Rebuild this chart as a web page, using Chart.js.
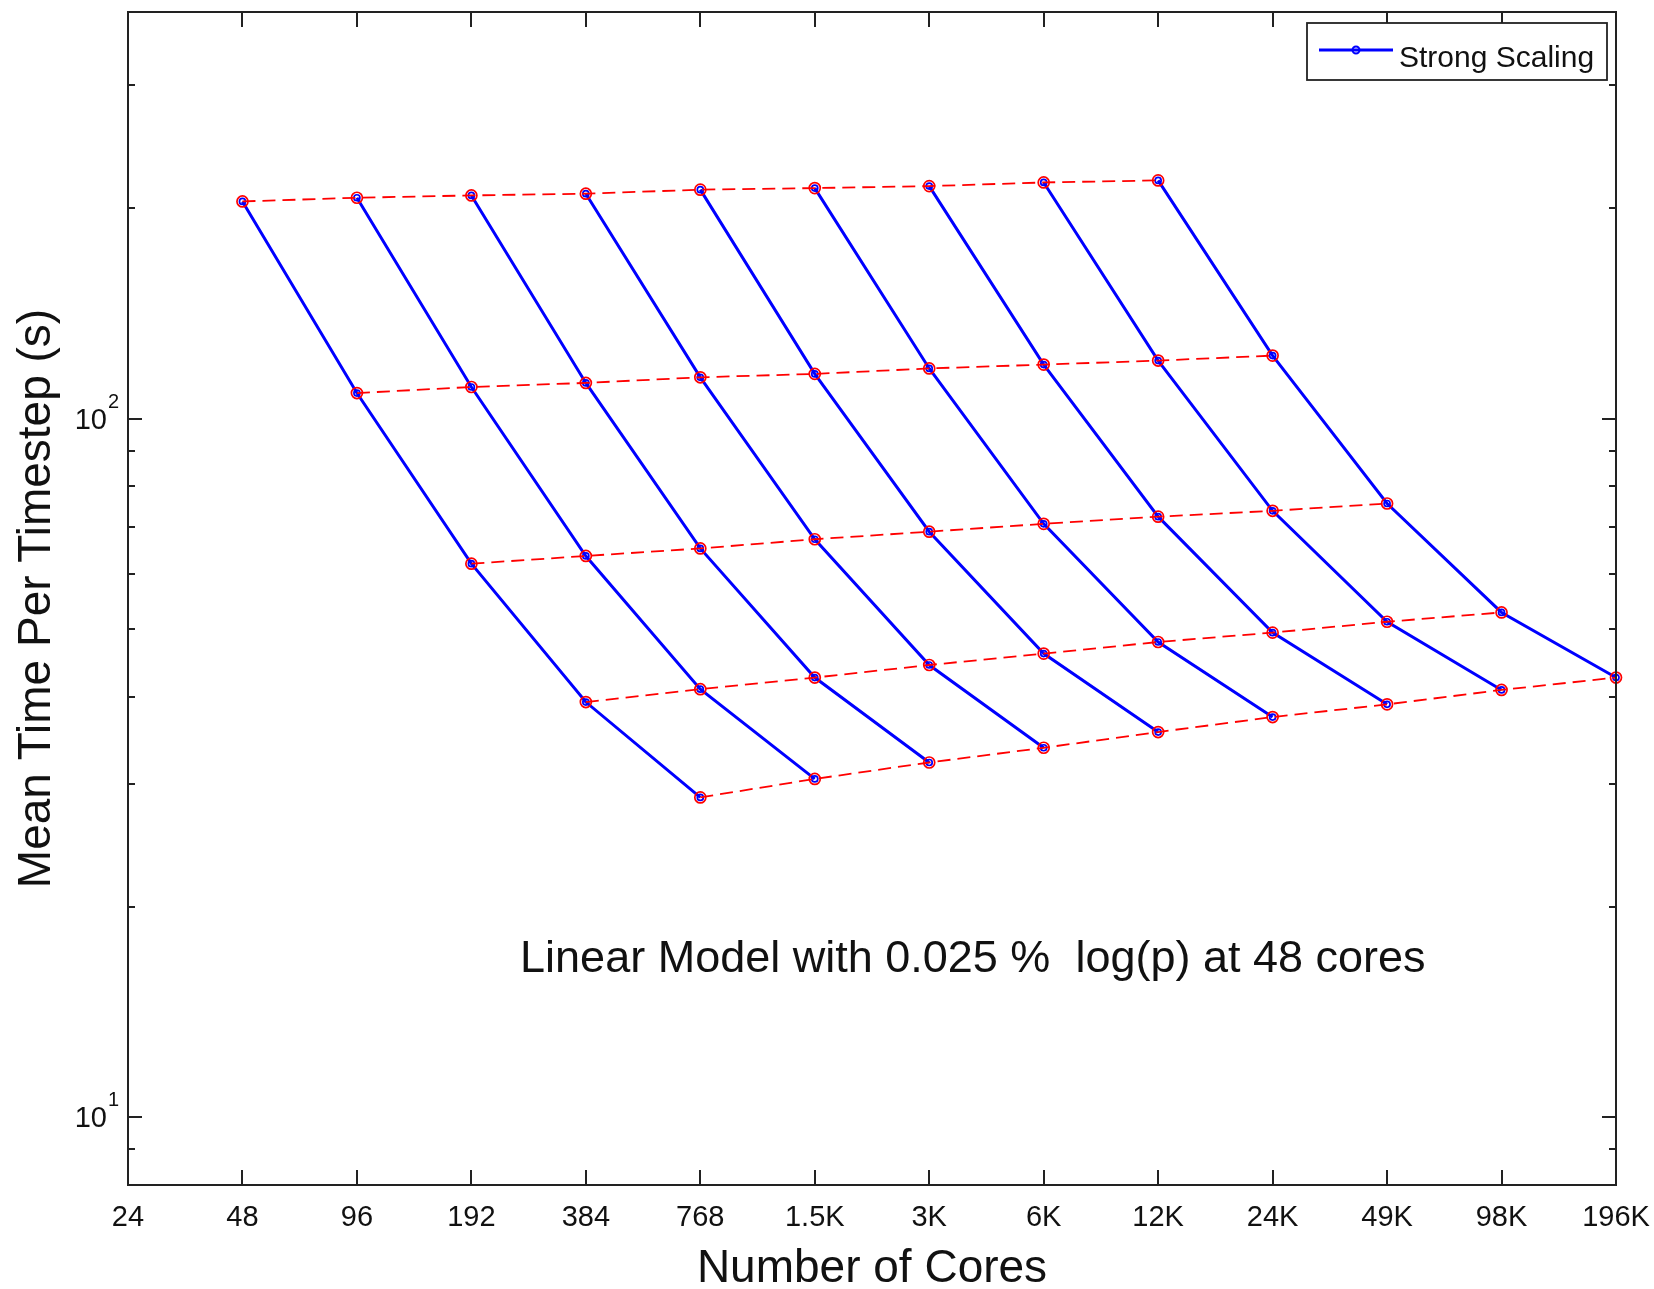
<!DOCTYPE html>
<html>
<head>
<meta charset="utf-8">
<script src="https://cdn.jsdelivr.net/npm/chart.js@4.4.1/dist/chart.umd.min.js"></script>
<style>
html, body { margin: 0; padding: 0; background: #fff; }
#wrap { width: 1654px; height: 1289px; }
</style>
</head>
<body>
<div id="wrap"><canvas id="myChart"></canvas></div>
<script>
// x axis: core counts (log2 spacing)
var tickCores = [24, 48, 96, 192, 384, 768, 1536, 3072, 6144, 12288, 24576, 49152, 98304, 196608];
var tickLabels = ["24", "48", "96", "192", "384", "768", "1.5K", "3K", "6K", "12K", "24K", "49K", "98K", "196K"];
var cores = [48, 96, 192, 384, 768, 1536, 3072, 6144, 12288, 24576, 49152, 98304, 196608];

// mean time per timestep (s); row n starts at cores[n]
var row1 = [204.6, 207.1, 208.7, 209.9, 212.7, 213.8, 215.2, 217.8, 219.3];
var row2 = [108.8, 111.0, 112.5, 114.6, 115.9, 118.0, 119.5, 121.1, 123.1];
var row3 = [62.0, 63.6, 65.2, 67.2, 68.9, 70.7, 72.4, 73.8, 75.6];
var row4 = [39.3, 41.0, 42.6, 44.4, 46.1, 47.9, 49.4, 51.2, 52.8];
var row5 = [28.7, 30.5, 32.2, 33.8, 35.6, 37.4, 39.0, 40.9, 42.6];
var rows = [row1, row2, row3, row4, row5];

var yTicks = [9, 10, 20, 30, 40, 50, 60, 70, 80, 90, 100, 200, 300];
var yMajor = [10, 100];
var noteText = "Linear Model with 0.025 %  log(p) at 48 cores";

var FONT = "'Liberation Sans', Arial, sans-serif";
var datasets = [];

// red dashed lines (same problem per core)
for (var i = 0; i < rows.length; i++) {
	var pts = [];
	for (var j = 0; j < rows[i].length; j++) {
		pts.push({x: cores[i + j], y: rows[i][j]});
	}
	datasets.push({
		label: 'weak' + i,
		data: pts,
		borderColor: '#ff0000',
		borderWidth: 1.8,
		borderDash: [13, 7],
		pointStyle: 'circle',
		pointRadius: 5.5,
		pointBorderWidth: 1.7,
		pointBorderColor: '#ff0000',
		pointBackgroundColor: 'rgba(0,0,0,0)',
		clip: false
	});
}

// blue strong scaling lines
for (var j = 0; j < row1.length; j++) {
	var pts = [];
	for (var i = 0; i < rows.length; i++) {
		pts.push({x: cores[i + j], y: rows[i][j]});
	}
	datasets.push({
		label: 'Strong Scaling',
		data: pts,
		borderColor: '#0000ff',
		borderWidth: 3,
		pointStyle: 'circle',
		pointRadius: 3,
		pointBorderWidth: 1.7,
		pointBorderColor: '#0000ff',
		pointBackgroundColor: 'rgba(0,0,0,0)',
		clip: false
	});
}

var framePlugin = {
	id: 'frame',
	afterDraw: function(chart) {
		var ctx = chart.ctx;
		var a = chart.chartArea;
		var xs = chart.scales.x, ys = chart.scales.y;
		ctx.save();
		ctx.strokeStyle = '#222';
		ctx.lineWidth = 2;
		ctx.strokeRect(a.left, a.top, a.right - a.left, a.bottom - a.top);
		ctx.beginPath();
		tickCores.forEach(function(v) {
			var px = Math.round(xs.getPixelForValue(v));
			ctx.moveTo(px, a.bottom); ctx.lineTo(px, a.bottom - 15);
			ctx.moveTo(px, a.top); ctx.lineTo(px, a.top + 15);
		});
		yTicks.forEach(function(v) {
			var py = Math.round(ys.getPixelForValue(v));
			var len = yMajor.indexOf(v) >= 0 ? 14 : 7;
			ctx.moveTo(a.left, py); ctx.lineTo(a.left + len, py);
			ctx.moveTo(a.right, py); ctx.lineTo(a.right - len, py);
		});
		ctx.stroke();

		// y labels 10^n
		ctx.fillStyle = '#111';
		yMajor.forEach(function(v) {
			var py = ys.getPixelForValue(v);
			ctx.font = '29px ' + FONT;
			ctx.textAlign = 'right';
			ctx.textBaseline = 'middle';
			ctx.fillText('10', a.left - 21, py + 2);
			ctx.font = '20px ' + FONT;
			ctx.textAlign = 'left';
			ctx.textBaseline = 'alphabetic';
			ctx.fillText(String(Math.round(Math.log10(v))), a.left - 20, py - 11);
		});

		// note text
		ctx.font = '45px ' + FONT;
		ctx.textAlign = 'center';
		ctx.textBaseline = 'alphabetic';
		ctx.fillText(noteText, xs.getPixelForValue(4000), ys.getPixelForValue(17) + 16);

		// legend box
		var lx = a.right - 309, ly = a.top + 11;
		ctx.fillStyle = '#fff';
		ctx.fillRect(lx, ly, 300, 57);
		ctx.strokeStyle = '#222';
		ctx.lineWidth = 1.8;
		ctx.strokeRect(lx, ly, 300, 57);
		ctx.strokeStyle = '#0000ff';
		ctx.lineWidth = 3;
		ctx.beginPath();
		ctx.moveTo(lx + 12, ly + 27); ctx.lineTo(lx + 86, ly + 27);
		ctx.stroke();
		ctx.lineWidth = 2;
		ctx.beginPath();
		ctx.arc(lx + 49, ly + 27, 3.5, 0, Math.PI * 2);
		ctx.stroke();
		ctx.fillStyle = '#111';
		ctx.font = '30px ' + FONT;
		ctx.textAlign = 'left';
		ctx.fillText('Strong Scaling', lx + 92, ly + 44);
		ctx.restore();
	}
};

var ctx = document.getElementById("myChart");
var myChart = new Chart(ctx, {
	type: 'line',
	data: { datasets: datasets },
	plugins: [framePlugin],
	options: {
		responsive: true,
		maintainAspectRatio: false,
		animation: false,
		layout: { padding: { top: 12, right: 38, left: 0, bottom: 0 } },
		plugins: { legend: { display: false }, tooltip: { enabled: false } },
		elements: { line: { tension: 0 } },
		scales: {
			x: {
				type: 'logarithmic',
				min: 24,
				max: 196608,
				afterBuildTicks: function(scale) {
					scale.ticks = tickCores.map(function(v) { return {value: v}; });
				},
				afterFit: function(scale) {
					scale.height = 104;
					scale.paddingLeft = 0;
					scale.paddingRight = 0;
				},
				grid: { display: false, drawTicks: false },
				border: { display: false },
				ticks: {
					autoSkip: false,
					maxRotation: 0,
					padding: 16,
					color: '#111',
					font: { family: FONT, size: 29 },
					callback: function(value) {
						var idx = tickCores.indexOf(value);
						return idx >= 0 ? tickLabels[idx] : '';
					}
				},
				title: {
					display: true,
					text: 'Number of Cores',
					color: '#111',
					font: { family: FONT, size: 46, lineHeight: 0.86 },
					padding: { top: 0, bottom: 0 }
				}
			},
			y: {
				type: 'logarithmic',
				min: 8,
				max: 382,
				afterFit: function(scale) { scale.width = 128; },
				grid: { display: false, drawTicks: false },
				border: { display: false },
				ticks: { display: false },
				title: {
					display: true,
					text: 'Mean Time Per Timestep (s)',
					color: '#111',
					font: { family: FONT, size: 46, lineHeight: 1 },
					padding: { top: 14, bottom: 0 }
				}
			}
		}
	}
});
</script>
</body>
</html>
